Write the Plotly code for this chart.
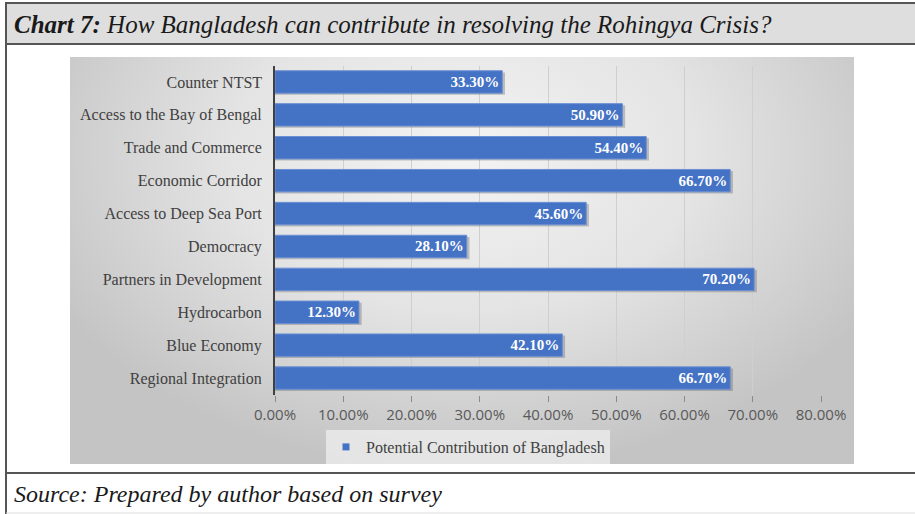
import plotly.graph_objects as go

W, H = 915, 514

categories = ["Counter NTST", "Access to the Bay of Bengal", "Trade and Commerce",
              "Economic Corridor", "Access to Deep Sea Port", "Democracy",
              "Partners in Development", "Hydrocarbon", "Blue Economy",
              "Regional Integration"]
values = [33.3, 50.9, 54.4, 66.7, 45.6, 28.1, 70.2, 12.3, 42.1, 66.7]
series_name = "Potential Contribution of Bangladesh"
x_ticks = [0, 10, 20, 30, 40, 50, 60, 70, 80]
title_bold = "Chart 7:"
title_rest = "How Bangladesh can contribute in resolving the Rohingya Crisis?"
source_text = "Source: Prepared by author based on survey"

BAR_BLUE = "#4472c4"


def px_x(v):
    return v / W


def px_y(v):
    return 1 - v / H


fig = go.Figure()

# gradient panel behind the chart (own axes, drawn first)
panel = dict(x0=70, x1=854, y0=57, y1=464)
fig.add_trace(go.Scatter(
    x=[0, 930, 930, 0, 0], y=[-160, -160, 470, 470, -160],
    mode="lines", line=dict(width=0), fill="toself",
    fillgradient=dict(type="radial",
                      colorscale=[[0, "#f3f3f3"], [0.5, "#e4e4e4"], [1, "#c4c4c4"]]),
    hoverinfo="skip", showlegend=False, xaxis="x", yaxis="y"))

xs = [v / 100 for v in values]

# soft drop shadow under each bar
fig.add_trace(go.Bar(
    y=categories, x=[v + 0.004 for v in xs], orientation="h",
    width=0.68, offset=-0.29,
    marker=dict(color="rgba(90,90,90,0.33)", line=dict(width=0)),
    hoverinfo="skip", showlegend=False, xaxis="x2", yaxis="y2"))

fig.add_trace(go.Bar(
    y=categories, x=xs, orientation="h",
    name=series_name, width=0.68, offset=-0.34,
    marker=dict(color=BAR_BLUE, line=dict(color="#6a8fd3", width=1)),
    text=[f"{v:.2f}%" for v in values], textposition="inside",
    insidetextanchor="end",
    textfont=dict(family="Liberation Serif", size=15, color="white", weight="bold"),
    showlegend=False, xaxis="x2", yaxis="y2"))

# legend entry with a small square marker
fig.add_trace(go.Scatter(
    x=[None], y=[None], mode="markers", name=series_name,
    marker=dict(symbol="square", size=7, color=BAR_BLUE),
    xaxis="x2", yaxis="y2"))

fig.update_layout(
    width=W, height=H,
    margin=dict(l=0, r=0, t=0, b=0, autoexpand=False),
    paper_bgcolor="white", plot_bgcolor="rgba(0,0,0,0)",
    barmode="overlay",
    showlegend=True,
    legend=dict(x=px_x(468), y=px_y(447), xanchor="center", yanchor="middle",
                orientation="h", bgcolor="rgba(236,236,236,0.8)",
                itemwidth=30,
                font=dict(family="Liberation Serif", size=16, color="#404040")),
    xaxis=dict(domain=[px_x(panel["x0"]), px_x(panel["x1"])],
               range=[panel["x0"], panel["x1"]], visible=False, fixedrange=True),
    yaxis=dict(domain=[px_y(panel["y1"]), px_y(panel["y0"])],
               range=[panel["y1"], panel["y0"]], visible=False, fixedrange=True),
    xaxis2=dict(domain=[px_x(275), px_x(821)], range=[0, 0.8],
                anchor="y2", tickvals=[t / 100 for t in x_ticks], tickformat=".2%",
                showgrid=True, gridcolor="#cfcfcf", gridwidth=1,
                ticks="outside", ticklen=6, tickcolor="#8a8a8a",
                zeroline=False, showline=False, automargin=False,
                tickfont=dict(family="Open Sans", size=15, color="#595959")),
    yaxis2=dict(domain=[px_y(394.5), px_y(65.5)], anchor="x2",
                categoryorder="array", categoryarray=categories,
                autorange="reversed", showline=True, linecolor="#404040",
                linewidth=2, ticks="", ticksuffix="  ", automargin=False,
                tickfont=dict(family="Liberation Serif", size=16, color="#404040")),
)

shapes = [
    # title band
    dict(type="rect", xref="paper", yref="paper",
         x0=px_x(6), x1=px_x(918), y0=px_y(44), y1=px_y(3),
         fillcolor="#dedede", line=dict(color="#555555", width=2), layer="below"),
    # left frame line
    dict(type="line", xref="paper", yref="paper",
         x0=px_x(6), x1=px_x(6), y0=px_y(44), y1=0,
         line=dict(color="#555555", width=2)),
    # separator above source
    dict(type="line", xref="paper", yref="paper",
         x0=px_x(6), x1=1, y0=px_y(473), y1=px_y(473),
         line=dict(color="#555555", width=2)),
    dict(type="line", xref="paper", yref="paper",
         x0=px_x(6), x1=1, y0=px_y(513), y1=px_y(513),
         line=dict(color="#dddddd", width=1)),
]
fig.update_layout(shapes=shapes)

fig.add_annotation(
    xref="paper", yref="paper", x=px_x(12), y=px_y(24),
    xanchor="left", yanchor="middle", showarrow=False,
    text=f"<b><i>{title_bold}</i></b> <i>{title_rest}</i>",
    font=dict(family="Liberation Serif", size=25, color="#1a1a1a"))

fig.add_annotation(
    xref="paper", yref="paper", x=px_x(12), y=px_y(494),
    xanchor="left", yanchor="middle", showarrow=False,
    text=f"<i>{source_text}</i>",
    font=dict(family="Liberation Serif", size=24, color="#1a1a1a"))

fig.write_html("out.html", config={"responsive": False, "displayModeBar": False},
               post_script="document.body.style.margin='0';"
                           "document.body.style.overflow='hidden';")
